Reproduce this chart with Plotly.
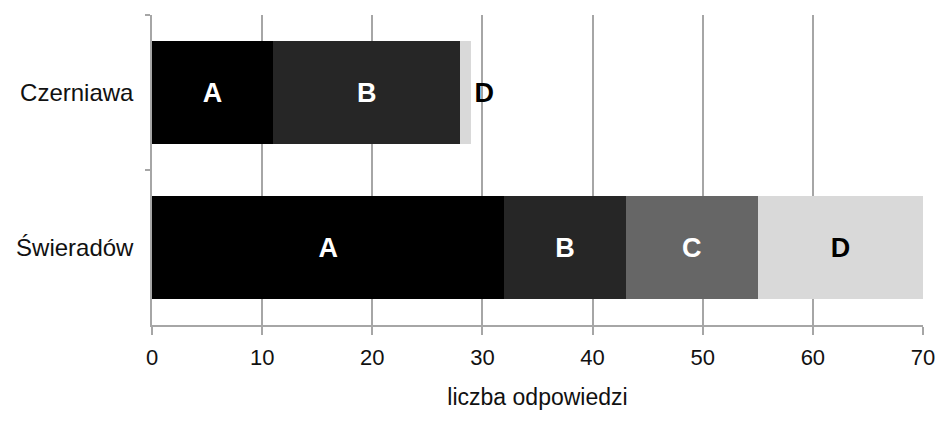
import plotly.graph_objects as go

categories = ["Czerniawa", "Świeradów"]
series_names = ["A", "B", "C", "D"]
values_A = [11, 32]
values_B = [17, 11]
values_C = [0, 12]
values_D = [1, 15]
x_ticks = [0, 10, 20, 30, 40, 50, 60, 70]

colors = {"A": "#000000", "B": "#262626", "C": "#666666", "D": "#d9d9d9"}
text_colors = {"A": "white", "B": "white", "C": "white", "D": "black"}

fig = go.Figure()
for name, vals in zip(series_names, [values_A, values_B, values_C, values_D]):
    texts = [name if v > 0 else "" for v in vals]
    if name == "D":
        positions = ["outside" if v < 3 else "inside" for v in vals]
    else:
        positions = ["inside"] * len(vals)
    fig.add_trace(go.Bar(
        y=categories, x=vals, orientation="h", name=name,
        marker=dict(color=colors[name], line=dict(width=0)),
        text=texts, textposition=positions, insidetextanchor="middle",
        textfont=dict(family="Liberation Sans, Arial, sans-serif", size=27,
                      color=text_colors[name], weight="bold"),
        outsidetextfont=dict(family="Liberation Sans, Arial, sans-serif", size=27,
                             color="black", weight="bold"),
        cliponaxis=False, hoverinfo="skip",
    ))

fig.update_layout(
    width=940, height=423,
    barmode="stack", bargap=0.335,
    showlegend=False,
    plot_bgcolor="white", paper_bgcolor="white",
    margin=dict(l=152, r=17, t=15, b=98),
    font=dict(family="Liberation Sans, Arial, sans-serif", color="#111111"),
)
fig.update_xaxes(
    range=[0, 70], tickvals=x_ticks, ticktext=[str(t) for t in x_ticks],
    showgrid=True, gridcolor="#a6a6a6", gridwidth=1.5,
    showline=True, linecolor="#a6a6a6", linewidth=1.5,
    ticks="outside", ticklen=8, tickcolor="#a6a6a6", tickwidth=1.5,
    tickfont=dict(size=22), ticklabelstandoff=4,
    zeroline=False, automargin=False,
    title=dict(text="liczba odpowiedzi", font=dict(size=23), standoff=20),
)
fig.update_yaxes(
    autorange="reversed", type="category",
    showline=True, linecolor="#a6a6a6", linewidth=1.5,
    ticks="outside", ticklen=5, tickcolor="#a6a6a6", tickwidth=1.5,
    tickson="boundaries", showgrid=False, automargin=False,
    tickfont=dict(size=24), ticklabelstandoff=12,
)

fig.write_html(
    "out.html",
    config={"displayModeBar": False},
    post_script="document.body.style.margin='0px';document.body.style.overflow='hidden';",
)
